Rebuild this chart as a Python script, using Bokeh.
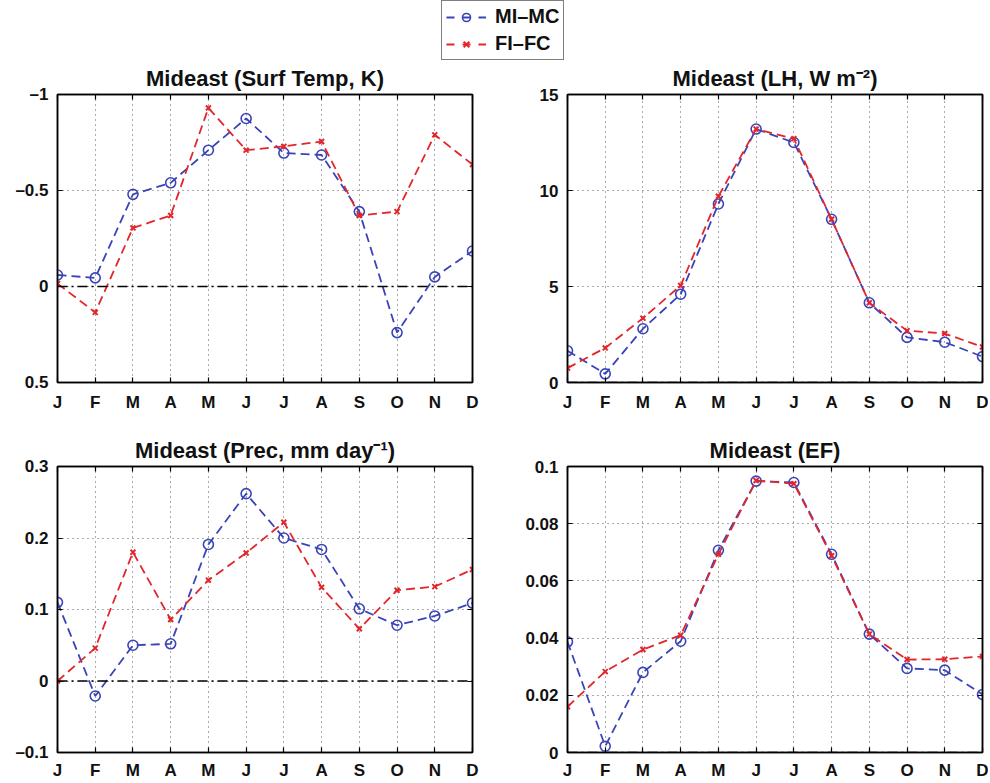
from bokeh.plotting import figure
from bokeh.models import Range1d, FixedTicker, LinearAxis, Legend, LegendItem, Span
from bokeh.layouts import column, row
from bokeh.embed import file_html
from bokeh.resources import INLINE

months = ["J", "F", "M", "A", "M", "J", "J", "A", "S", "O", "N", "D"]
month_idx = list(range(1, 13))

temp_mimc = [-0.06, -0.045, -0.48, -0.54, -0.71, -0.875, -0.695, -0.685, -0.39, 0.24, -0.05, -0.185]
temp_fifc = [-0.015, 0.135, -0.305, -0.37, -0.93, -0.71, -0.73, -0.755, -0.37, -0.39, -0.79, -0.635]
lh_mimc = [1.65, 0.45, 2.8, 4.6, 9.3, 13.2, 12.5, 8.5, 4.15, 2.35, 2.1, 1.35]
lh_fifc = [0.75, 1.8, 3.35, 5.05, 9.7, 13.2, 12.7, 8.5, 4.15, 2.7, 2.55, 1.85]
prec_mimc = [0.11, -0.021, 0.05, 0.052, 0.191, 0.262, 0.2, 0.184, 0.101, 0.078, 0.091, 0.109]
prec_fifc = [0.0, 0.046, 0.18, 0.086, 0.141, 0.179, 0.222, 0.131, 0.073, 0.127, 0.132, 0.156]
ef_mimc = [0.0387, 0.0022, 0.028, 0.0389, 0.0707, 0.0949, 0.0944, 0.0693, 0.0414, 0.0294, 0.0288, 0.0203]
ef_fifc = [0.016, 0.0283, 0.036, 0.041, 0.0693, 0.0951, 0.094, 0.0688, 0.0414, 0.0325, 0.0326, 0.0336]

temp_ticks = [-1, -0.5, 0, 0.5]
temp_labels = ["–1", "–0.5", "0", "0.5"]
lh_ticks = [0, 5, 10, 15]
lh_labels = ["0", "5", "10", "15"]
prec_ticks = [-0.1, 0, 0.1, 0.2, 0.3]
prec_labels = ["–0.1", "0", "0.1", "0.2", "0.3"]
ef_ticks = [0, 0.02, 0.04, 0.06, 0.08, 0.1]
ef_labels = ["0", "0.02", "0.04", "0.06", "0.08", "0.1"]

BLUE = "#3a44b8"
RED = "#e3262b"
FONT = "Liberation Sans"


def style_axis(ax, show_labels, standoff):
    ax.axis_line_color = "black"
    ax.axis_line_width = 1.5
    ax.major_tick_in = 5
    ax.major_tick_out = 0
    ax.major_tick_line_color = "black"
    ax.major_tick_line_width = 1.2
    ax.minor_tick_line_color = None
    ax.major_label_text_font = FONT
    ax.major_label_text_font_style = "bold"
    if show_labels:
        ax.major_label_text_color = "#111111"
        ax.major_label_text_font_size = "17px"
        ax.major_label_standoff = standoff
    else:
        ax.major_label_text_color = None
        ax.major_label_text_font_size = "0px"
        ax.major_label_standoff = 0


def panel(title, s1, s2, y0, y1, yticks, ylabels, width, height, bl, br, bt, bb, xstand):
    p = figure(width=width, height=height, x_range=Range1d(1, 12), y_range=Range1d(y0, y1),
               output_backend="svg", toolbar_location=None, title=title,
               min_border_left=bl, min_border_right=br, min_border_top=bt, min_border_bottom=bb)
    p.title.align = "center"
    p.title.text_font = FONT
    p.title.text_font_style = "bold"
    p.title.text_font_size = "22px"
    p.title.text_color = "#111111"
    p.title.standoff = 7
    p.add_layout(LinearAxis(), "right")
    p.add_layout(LinearAxis(), "above")
    xt = FixedTicker(ticks=month_idx)
    yt = FixedTicker(ticks=yticks)
    for ax in p.xaxis:
        ax.ticker = xt
        ax.major_label_overrides = {i: m for i, m in zip(month_idx, months)}
    for ax in p.yaxis:
        ax.ticker = yt
        ax.major_label_overrides = {t: l for t, l in zip(yticks, ylabels)}
    style_axis(p.below[0], True, xstand)
    style_axis(p.left[0], True, 9)
    style_axis(p.above[0], False, 0)
    style_axis(p.right[0], False, 0)
    p.outline_line_color = "black"
    p.outline_line_width = 1.5
    p.grid.grid_line_color = "#555555"
    p.grid.grid_line_dash = "1 4"
    p.grid.grid_line_width = 1
    p.background_fill_color = "white"
    p.border_fill_color = "white"
    p.add_layout(Span(location=0, dimension="width", line_color="black",
                      line_dash="10 4 2 4", line_width=1.5))
    p.line(month_idx, s1, line_color=BLUE, line_width=1.8, line_dash="9 5")
    p.scatter(month_idx, s1, marker="circle", size=10, fill_color=None, line_color=BLUE, line_width=1.6)
    p.line(month_idx, s2, line_color=RED, line_width=1.8, line_dash="9 5")
    p.scatter(month_idx, s2, marker="x", size=7, line_color=RED, line_width=2)
    return p


tl = panel("Mideast (Surf Temp, K)", temp_mimc, temp_fifc, 0.5, -1, temp_ticks, temp_labels,
           520, 356, 57, 48, 34, 34, 10)
tr = panel("Mideast (LH, W m⁻²)", lh_mimc, lh_fifc, 0, 15, lh_ticks, lh_labels,
           468, 356, 47, 6, 34, 34, 10)
bl = panel("Mideast (Prec, mm day⁻¹)", prec_mimc, prec_fifc, -0.1, 0.3, prec_ticks, prec_labels,
           520, 366, 57, 48, 50, 27, 8)
br = panel("Mideast (EF)", ef_mimc, ef_fifc, 0, 0.1, ef_ticks, ef_labels,
           468, 366, 47, 6, 50, 27, 8)

hdr = figure(width=988, height=60, x_range=Range1d(100, 101), y_range=Range1d(100, 101),
             output_backend="svg", toolbar_location=None, x_axis_location=None, y_axis_location=None,
             min_border=0, min_border_left=0, min_border_right=0, min_border_top=0, min_border_bottom=0)
hdr.grid.visible = False
hdr.outline_line_color = None
h1 = hdr.line(month_idx, temp_mimc, line_color=BLUE, line_width=1.8, line_dash="8 8")
h2 = hdr.scatter(month_idx, temp_mimc, marker="circle", size=10, fill_color=None, line_color=BLUE, line_width=1.6)
h3 = hdr.line(month_idx, temp_fifc, line_color=RED, line_width=1.8, line_dash="8 8")
h4 = hdr.scatter(month_idx, temp_fifc, marker="x", size=7, line_color=RED, line_width=2)
leg = Legend(items=[LegendItem(label="MI–MC", renderers=[h1, h2]),
                    LegendItem(label="FI–FC", renderers=[h3, h4])],
             location=(441, 0))
leg.border_line_color = "black"
leg.border_line_width = 1.5
leg.background_fill_color = "white"
leg.background_fill_alpha = 1
leg.label_text_font = FONT
leg.label_text_font_style = "bold"
leg.label_text_font_size = "20px"
leg.label_text_color = "#111111"
leg.glyph_width = 40
leg.glyph_height = 20
leg.label_height = 20
leg.label_standoff = 9
leg.spacing = 4
leg.padding = 4
leg.margin = 0
hdr.add_layout(leg)

layout = column(hdr, row(tl, tr), row(bl, br))
open("out.html", "w").write(file_html(layout, INLINE))
